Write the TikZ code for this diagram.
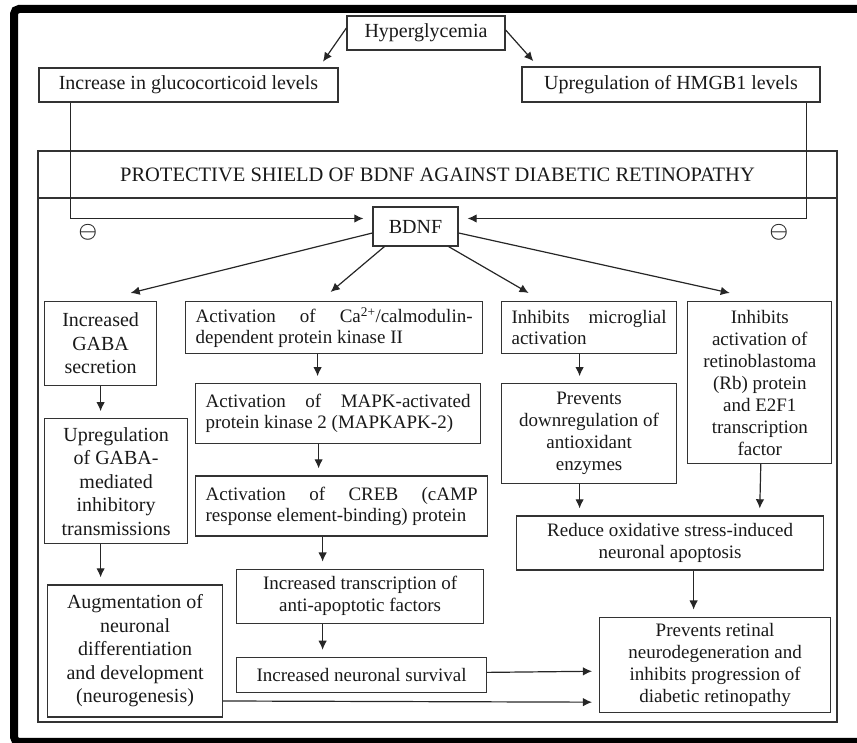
\documentclass[tikz,border=0pt]{standalone}
\usepackage{fontspec}
\setmainfont{Liberation Serif}
\usepackage{tikz}
\usetikzlibrary{positioning}
\usetikzlibrary{arrows.meta}
\tikzset{>={Latex[width=3mm,length=3.2mm]}}

\begin{document}
\begin{tikzpicture}[x=1pt, y=1pt, box/.style={draw=black!80, line width=1.2pt, inner sep=0pt, inner xsep=8pt, text=black!90, font=\fontsize{19}{22}\selectfont, align=center}, topbox/.style={box, font=\fontsize{20}{24}\selectfont}, leftbox/.style={box, font=\fontsize{20}{23.5}\selectfont}, jbox/.style={box, inner xsep=10pt, align=justify, font=\fontsize{19}{21}\selectfont}, link/.style={->, line width=1.2pt, draw=black!85, shorten >=7pt}, sign/.style={inner sep=0pt, text=black!85, font=\fontsize{22}{22}\selectfont\boldmath}]

    \useasboundingbox (0,0) rectangle (857,743);
    \draw[line width=8pt, rounded corners=5pt] (14,734) rectangle (875,1);

    %Nodes
    \node[topbox, minimum width=158, minimum height=34](hyper) at (426,710){Hyperglycemia};
    \node[topbox, minimum width=299, minimum height=34](gluco) at (188.5,658){Increase in glucocorticoid levels};
    \node[topbox, minimum width=298, minimum height=35](hmgb) at (671,658.5){Upregulation of HMGB1 levels};
    \node[box, minimum width=799, minimum height=571](shield) at (437.5,306.5){};
    \node[box, minimum width=799, minimum height=47, font=\fontsize{20.5}{24}\selectfont](shield_title) at (437.5,568.5){PROTECTIVE SHIELD OF BDNF AGAINST DIABETIC RETINOPATHY};
    \node[topbox, minimum width=85, minimum height=39](bdnf) at (415.5,516.5){BDNF};
    \node[sign](minus_left) at (88,511){$\ominus$};
    \node[sign](minus_right) at (779,511){$\ominus$};

    \node[leftbox, minimum width=112, minimum height=84, anchor=north west](gaba_sec) at (44,442){Increased\\GABA\\secretion};
    \node[leftbox, minimum width=143, minimum height=125](gaba_upreg)[below=32pt of gaba_sec.south west, anchor=north west]{Upregulation\\of GABA-\\mediated\\inhibitory\\transmissions};
    \node[leftbox, minimum width=175, minimum height=132](neurogen)[below=40pt of gaba_upreg.south west, anchor=north west, xshift=3pt]{Augmentation of\\neuronal\\differentiation\\and development\\(neurogenesis)};

    \node[jbox, text width=277, minimum height=52, anchor=north west](camk) at (185,442){Activation of Ca\textsuperscript{2+}/calmodulin-\linebreak dependent protein kinase II};
    \node[jbox, text width=265, minimum height=60](mapk)[below=29pt of camk.south west, anchor=north west, xshift=10pt]{Activation of MAPK-activated\linebreak protein kinase 2 (MAPKAPK-2)};
    \node[jbox, text width=272, minimum height=60](creb)[below=31pt of mapk.south west, anchor=north west]{Activation of CREB (cAMP\linebreak response element-binding) protein};
    \node[box, minimum width=247, minimum height=54](anti_apop)[below=32pt of creb.south west, anchor=north west, xshift=41pt]{Increased transcription of\\anti-apoptotic factors};
    \node[box, minimum width=250, minimum height=35](survival)[below=33pt of anti_apop.south west, anchor=north west]{Increased neuronal survival};

    \node[jbox, text width=155, minimum height=52, anchor=north west](microglia) at (501,442){Inhibits microglial\linebreak activation};
    \node[box, minimum width=175, minimum height=100](antiox)[below=29pt of microglia]{Prevents\\downregulation of\\antioxidant\\enzymes};
    \node[box, minimum width=144, minimum height=162](retino)[right=10pt of microglia.north east, anchor=north west]{Inhibits\\activation of\\retinoblastoma\\(Rb) protein\\and E2F1\\transcription\\factor};
    \node[box, minimum width=307, minimum height=54](ox_stress)[below=31pt of antiox.south west, anchor=north west, xshift=15pt]{Reduce oxidative stress-induced\\neuronal apoptosis};
    \node[box, minimum width=231, minimum height=95](retinopathy)[below=46pt of ox_stress.south east, anchor=north east, xshift=7pt]{Prevents retinal\\neurodegeneration and\\inhibits progression of\\diabetic retinopathy};

    %Lines
    \draw[link] ([yshift=5pt]hyper.west) -- ([xshift=130.5pt]gluco.north);
    \draw[link] ([yshift=3pt]hyper.east) -- ([xshift=-133pt]hmgb.north);
    \draw[link, shorten >=9pt] ([xshift=32pt]gluco.south west) |- ([yshift=8pt]bdnf.west);
    \draw[link, shorten >=9pt] ([xshift=-14pt]hmgb.south east) |- ([yshift=8pt]bdnf.east);
    \draw[link, shorten >=0pt] ([yshift=-6.5pt]bdnf.west) -- ([xshift=30pt, yshift=8pt]gaba_sec.north);
    \draw[link, shorten >=0pt] ([xshift=12pt]bdnf.south west) -- ([xshift=-3.5pt, yshift=9pt]camk.north);
    \draw[link, shorten >=0pt] ([xshift=-10pt]bdnf.south east) -- ([xshift=-60.5pt, yshift=8pt]microglia.north);
    \draw[link, shorten >=0pt] ([yshift=-6.5pt]bdnf.east) -- ([xshift=-30pt, yshift=8pt]retino.north);
    \draw[link] (gaba_sec.south) -- (gaba_sec.south |- gaba_upreg.north);
    \draw[link] (gaba_upreg.south -| gaba_sec.south) -- (neurogen.north -| gaba_sec.south);
    \draw[link] ([xshift=-16.5pt]camk.south) -- ([xshift=-20.5pt]mapk.north);
    \draw[link] ([xshift=-19.5pt]mapk.south) -- ([xshift=-23pt]creb.north);
    \draw[link] ([xshift=-19pt]creb.south) -- ([xshift=-37.5pt]anti_apop.north);
    \draw[link] ([xshift=-37.5pt]anti_apop.south) -- ([xshift=-39pt]survival.north);
    \draw[link] ([xshift=-9.5pt]microglia.south) -- ([xshift=-9.5pt]antiox.north);
    \draw[link] ([xshift=-9.5pt]antiox.south) -- ([xshift=-90.5pt]ox_stress.north);
    \draw[link] ([xshift=1pt]retino.south) -- ([xshift=89.5pt]ox_stress.north);
    \draw[link] ([xshift=23.5pt]ox_stress.south) -- ([xshift=-21.5pt]retinopathy.north);
    \draw[link] ([yshift=2.5pt]survival.east) -- ([yshift=-6.5pt]retinopathy.west);
    \draw[link] ([yshift=-50pt]neurogen.east) -- ([yshift=-37.5pt]retinopathy.west);
\end{tikzpicture}
\end{document}
